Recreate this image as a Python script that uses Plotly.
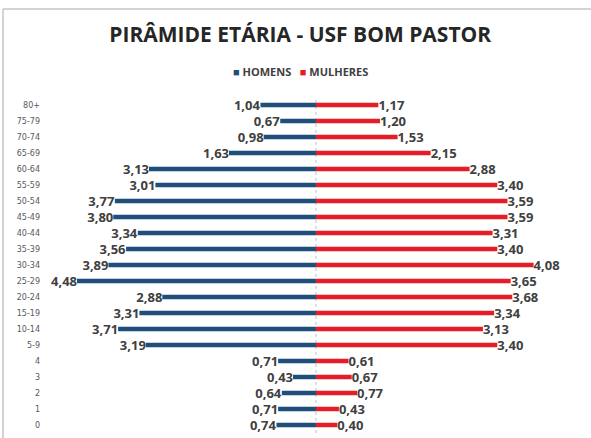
import plotly.graph_objects as go

categorias = ["80+", "75-79", "70-74", "65-69", "60-64", "55-59", "50-54", "45-49",
              "40-44", "35-39", "30-34", "25-29", "20-24", "15-19", "10-14", "5-9",
              "4", "3", "2", "1", "0"]
homens = [1.04, 0.67, 0.98, 1.63, 3.13, 3.01, 3.77, 3.80, 3.34, 3.56, 3.89, 4.48,
          2.88, 3.31, 3.71, 3.19, 0.71, 0.43, 0.64, 0.71, 0.74]
mulheres = [1.17, 1.20, 1.53, 2.15, 2.88, 3.40, 3.59, 3.59, 3.31, 3.40, 4.08, 3.65,
            3.68, 3.34, 3.13, 3.40, 0.61, 0.67, 0.77, 0.43, 0.40]

def fmt(v):
    return "<b>" + f"{v:.2f}".replace(".", ",") + "</b>"

AZUL = "#1F4E79"
VERMELHO = "#E41E26"
label_font = dict(family="Open Sans", size=13, color="#404040")

fig = go.Figure()
fig.add_trace(go.Bar(
    y=categorias, x=[-v for v in homens], orientation="h", name="HOMENS",
    marker=dict(color=AZUL, line=dict(width=0)),
    text=[fmt(v) for v in homens], textposition="outside",
    textfont=label_font, constraintext="none", cliponaxis=False,
    hovertemplate="%{y}: %{text}<extra>HOMENS</extra>",
))
fig.add_trace(go.Bar(
    y=categorias, x=mulheres, orientation="h", name="MULHERES",
    marker=dict(color=VERMELHO, line=dict(width=0)),
    text=[fmt(v) for v in mulheres], textposition="outside",
    textfont=label_font, constraintext="none", cliponaxis=False,
    hovertemplate="%{y}: %{text}<extra>MULHERES</extra>",
))

# dotted centre line
fig.add_shape(type="line", xref="x", yref="paper", x0=0, x1=0, y0=0, y1=1,
              line=dict(color="#BFBFBF", width=1, dash="dot"), layer="below")
# chart frame (top and left edges)
fig.add_shape(type="line", xref="paper", yref="paper", x0=-0.0785, x1=1.03, y0=1.262, y1=1.262,
              line=dict(color="#C4C4C4", width=1.5))
fig.add_shape(type="line", xref="paper", yref="paper", x0=-0.0785, x1=-0.0785, y0=-0.03, y1=1.262,
              line=dict(color="#C4C4C4", width=1.5))

# legend drawn as text
fig.add_annotation(
    xref="paper", yref="paper", x=0.4785, y=1.077, xanchor="center", yanchor="middle",
    showarrow=False,
    text=(f"<span style='color:{AZUL}'>■</span>&nbsp;<b>HOMENS</b>&nbsp;&nbsp;&nbsp;"
          f"<span style='color:{VERMELHO}'>■</span>&nbsp;<b>MULHERES</b>"),
    font=dict(family="Open Sans", size=11, color="#404040"),
)

fig.update_layout(
    width=591, height=438,
    margin=dict(l=45, r=11, t=97, b=5),
    paper_bgcolor="white", plot_bgcolor="white",
    barmode="relative", bargap=0.72,
    title=dict(text="<b>PIRÂMIDE ETÁRIA - USF BOM PASTOR</b>",
               x=0.508, xanchor="center", y=0.92, yanchor="middle",
               font=dict(family="Open Sans", size=21, color="#262626")),
    showlegend=False,
    xaxis=dict(range=[-5.08, 4.95], showticklabels=False, showgrid=False,
               zeroline=False, showline=False, fixedrange=True),
    yaxis=dict(categoryorder="array", categoryarray=categorias[::-1],
               autorange=False, range=[-0.5, 20.5],
               tickfont=dict(family="DejaVu Sans", size=8, color="#595959"),
               showgrid=False, zeroline=False, showline=False, ticks="", ticklabelstandoff=4),
)
fig.write_html("out.html", config={"displayModeBar": False},
               post_script="document.body.style.margin='0';")
